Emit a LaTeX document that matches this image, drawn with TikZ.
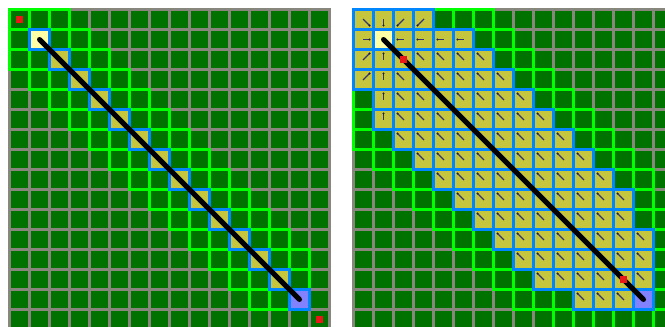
\documentclass[tikz,border=0pt]{standalone}

\definecolor{gridgrey}{RGB}{136,135,126}
\definecolor{fieldgreen}{RGB}{0,114,0}
\definecolor{opengreen}{RGB}{0,255,0}
\definecolor{closedblue}{RGB}{0,134,255}
\definecolor{closedfill}{RGB}{198,198,62}
\definecolor{startfill}{RGB}{255,255,165}
\definecolor{goalfill}{RGB}{130,130,255}
\definecolor{marknavy}{RGB}{52,52,112}
\definecolor{hitred}{RGB}{232,24,24}

\tikzset{
    cell/.style={minimum size=20pt, inner sep=0pt, outer sep=0pt, line width=3pt, draw=gridgrey, fill=fieldgreen},
    opencell/.style={cell, draw=opengreen},
    closedcell/.style={cell, draw=closedblue, fill=closedfill},
    startcell/.style={closedcell, fill=startfill},
    goalcell/.style={closedcell, fill=goalfill},
    hit/.style={fill=hitred, minimum size=7.5pt, inner sep=0pt, outer sep=0pt},
    route/.style={line width=5pt, line cap=round},
    parentmark/.style={marknavy, line width=1.2pt}
}

\begin{document}
\begin{tikzpicture}[x=1pt, y=-1pt]
    \useasboundingbox (0,0) rectangle (665,327);
    \fill[white] (0,0) rectangle (665,327);
    \clip (0,0) rectangle (665,327);

    % left: straight diagonal search
    \foreach \c in {0,...,15}
        \foreach \r in {0,...,15}
            \node[cell] (L-\c-\r) at ({19.5+20*\c},{19.5+20*\r}) {};
    \foreach \k in {1,...,13}
        \foreach \i in {-1,0,1}
            \foreach \j in {-1,0,1}{
                \pgfmathtruncatemacro\c{\k+\i}
                \pgfmathtruncatemacro\r{\k+\j}
                \node[opencell] (L-\c-\r) at ({19.5+20*\c},{19.5+20*\r}) {};
            }
    \foreach \k in {2,...,13}
        \node[closedcell] (L-\k-\k) at ({19.5+20*\k},{19.5+20*\k}) {};
    \node[startcell] (L-1-1) at (39.5,39.5) {};
    \node[goalcell] (L-14-14) at (299.5,299.5) {};

    \draw[route] (L-1-1.center) -- (L-14-14.center);
    \node[hit] (L-hit-a) at (L-0-0.center) {};
    \node[hit] (L-hit-b) at (L-15-15.center) {};

    % right: wide search
    \foreach \c in {0,...,15}
        \foreach \r in {0,...,15}
            \node[cell] (R-\c-\r) at ({363.5+20*\c},{19.5+20*\r}) {};
    \foreach \r/\lo/\hi in {0/0/3, 1/0/5, 2/0/6, 3/0/7, 4/1/8, 5/1/9, 6/2/10, 7/3/11,
                            8/4/12, 9/5/13, 10/6/13, 11/7/14, 12/8/14, 13/9/14, 14/11/14}
        \foreach \c in {\lo,...,\hi}
            \foreach \i in {-1,0,1}
                \foreach \j in {-1,0,1}{
                    \pgfmathtruncatemacro\cc{\c+\i}
                    \pgfmathtruncatemacro\rr{\r+\j}
                    \ifnum\cc<0 \else \ifnum\rr<0 \else
                        \node[opencell] (R-\cc-\rr) at ({363.5+20*\cc},{19.5+20*\rr}) {};
                    \fi\fi
                }
    \foreach \r/\lo/\hi in {0/0/3, 1/0/5, 2/0/6, 3/0/7, 4/1/8, 5/1/9, 6/2/10, 7/3/11,
                            8/4/12, 9/5/13, 10/6/13, 11/7/14, 12/8/14, 13/9/14, 14/11/13}
        \foreach \c in {\lo,...,\hi}
            \node[closedcell] (R-\c-\r) at ({363.5+20*\c},{19.5+20*\r}) {};
    \node[startcell] (R-1-1) at (383.5,39.5) {};
    \node[goalcell] (R-14-14) at (643.5,299.5) {};

    \foreach \r/\lo/\hi in {2/2/6, 3/2/7, 4/2/8, 5/2/9, 6/2/10, 7/3/11, 8/4/12,
                            9/5/13, 10/6/13, 11/7/14, 12/8/14, 13/9/14, 14/11/13}
        \foreach \c in {\lo,...,\hi}{
            \draw[parentmark] (R-\c-\r.center) ++(0.5,0.5) -- ++(-6.5,-6.5);
            \fill[marknavy!60!black] (R-\c-\r.center) ++(-6,-6) circle (1.1pt);
        }
    \foreach \c/\r/\dx/\dy in {0/0/1/1, 1/0/0/1, 2/0/-1/1, 3/0/-1/1, 0/1/1/0, 2/1/-1/0,
                               3/1/-1/0, 4/1/-1/0, 5/1/-1/0, 0/2/1/-1, 1/2/0/-1, 0/3/1/-1,
                               1/3/0/-1, 1/4/0/-1, 1/5/0/-1}{
        \draw[parentmark] (R-\c-\r.center) ++({-0.5*\dx},{-0.5*\dy}) -- ++({7*\dx},{7*\dy});
        \fill[marknavy!60!black] (R-\c-\r.center) ++({6*\dx},{6*\dy}) circle (1.1pt);
    }

    \draw[route] (R-1-1.center) -- (R-14-14.center);
    \node[hit] (R-hit-a) at (R-2-2.center) {};
    \node[hit] (R-hit-b) at (R-13-13.center) {};
\end{tikzpicture}
\end{document}
